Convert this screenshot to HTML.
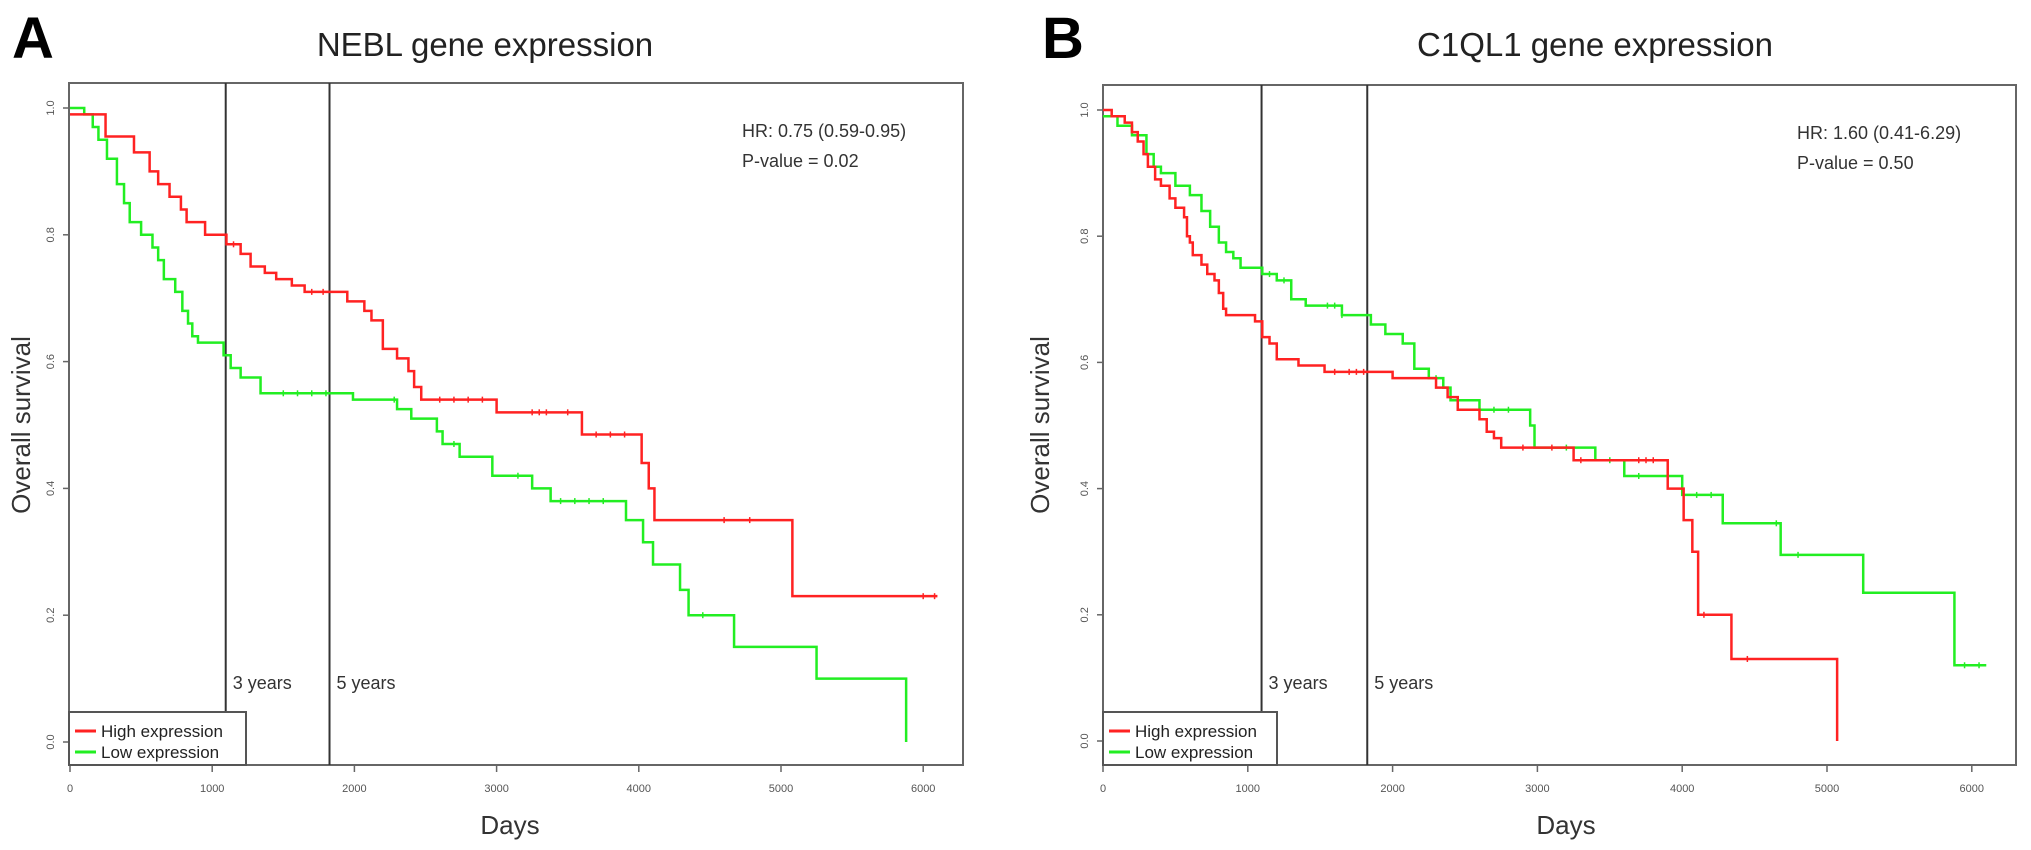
<!DOCTYPE html>
<html><head><meta charset="utf-8"><style>
html,body{margin:0;padding:0;background:#fff;}
svg{display:block;font-family:"Liberation Sans",Arial,sans-serif;}
</style></head><body>
<svg id="fig" width="2031" height="850" viewBox="0 0 2031 850" xmlns="http://www.w3.org/2000/svg"></svg>
<script>
// ---- data ----
const xTicks = [0,1000,2000,3000,4000,5000,6000];
const yTicks = [0,0.2,0.4,0.6,0.8,1.0];
const markerDays = [1095,1825];
const markerLabels = ["3 years","5 years"];

const aHighDays = [0,250,450,560,620,700,780,820,950,1100,1200,1270,1370,1450,1560,1650,1950,2070,2120,2200,2300,2380,2420,2470,3000,3600,4020,4070,4110,5080];
const aHighSurv = [0.99,0.955,0.93,0.90,0.88,0.86,0.84,0.82,0.80,0.785,0.77,0.75,0.74,0.73,0.72,0.71,0.695,0.68,0.665,0.62,0.605,0.585,0.56,0.54,0.52,0.485,0.44,0.40,0.35,0.23];
const aHighEnd = 6100;
const aHighCensor = [1150,1700,1780,2600,2700,2800,2900,3250,3300,3350,3500,3700,3800,3900,4600,4780,6000,6080];
const aLowDays = [0,100,160,200,260,330,380,420,500,580,620,660,740,790,830,860,900,1080,1130,1200,1340,1990,2300,2400,2580,2620,2740,2970,3250,3380,3910,4030,4100,4290,4350,4670,5250,5880];
const aLowSurv = [1.0,0.99,0.97,0.95,0.92,0.88,0.85,0.82,0.80,0.78,0.76,0.73,0.71,0.68,0.66,0.64,0.63,0.61,0.59,0.575,0.55,0.54,0.525,0.51,0.49,0.47,0.45,0.42,0.40,0.38,0.35,0.315,0.28,0.24,0.20,0.15,0.10,0.0];
const aLowEnd = 5880;
const aLowCensor = [1500,1600,1700,1800,2280,2700,3150,3450,3550,3650,3750,4450];

const bHighDays = [0,60,150,200,240,280,310,360,400,460,500,560,580,600,620,680,720,770,800,830,850,1050,1100,1150,1200,1350,1530,2000,2300,2380,2450,2600,2650,2700,2750,3250,3900,4010,4070,4110,4340,5070];
const bHighSurv = [1.0,0.99,0.98,0.965,0.95,0.93,0.91,0.89,0.88,0.86,0.845,0.83,0.80,0.79,0.77,0.755,0.74,0.73,0.71,0.685,0.675,0.665,0.64,0.63,0.605,0.595,0.585,0.575,0.56,0.545,0.525,0.51,0.49,0.48,0.465,0.445,0.40,0.35,0.30,0.20,0.13,0.0];
const bHighEnd = 5070;
const bHighCensor = [1600,1700,1750,1800,2900,3100,3300,3700,3750,3800,4150,4450];
const bLowDays = [0,100,200,300,350,400,500,600,680,740,800,850,900,950,1100,1200,1300,1400,1650,1850,1950,2070,2150,2250,2350,2400,2600,2950,2980,3400,3600,4000,4280,4680,5250,5880];
const bLowSurv = [0.99,0.975,0.96,0.93,0.91,0.90,0.88,0.865,0.84,0.815,0.79,0.775,0.765,0.75,0.74,0.73,0.70,0.69,0.675,0.66,0.645,0.63,0.59,0.575,0.56,0.54,0.525,0.50,0.465,0.445,0.42,0.39,0.345,0.295,0.235,0.12];
const bLowEnd = 6100;
const bLowCensor = [1150,1250,1550,1600,1650,2300,2700,2800,3200,3500,3700,4100,4200,4650,4800,5950,6050];

const NS = "http://www.w3.org/2000/svg";
const svg = document.getElementById("fig");
function mk(tag, attrs, parent, text){
  const e = document.createElementNS(NS, tag);
  for (const k in attrs) e.setAttribute(k, attrs[k]);
  if (text !== undefined) e.textContent = text;
  (parent || svg).appendChild(e);
  return e;
}

function panel(cfg){
  const g = mk("g", {});
  
  
  const X = d => cfg.x0 + d * cfg.px;
  const Y = s => cfg.y0 - s * cfg.py;

  const lt = mk("text", {x:cfg.letterX, y:58, "font-size":58, "font-weight":"bold", fill:"#000"}, g, cfg.letter);
  
  
  const tt = mk("text", {x:cfg.titleX, y:56, "font-size":33, "text-anchor":"middle", fill:"#222"}, g, cfg.title);
  
  

  // box
  const box = mk("rect", {x:cfg.bl, y:cfg.bt, width:cfg.br-cfg.bl, height:cfg.bb-cfg.bt, fill:"none", stroke:"#666", "stroke-width":2}, g);
  
  

  // y ticks
  yTicks.forEach(v => {
    const y = Y(v);
    const tk = mk("line", {x1:cfg.bl-6, x2:cfg.bl, y1:y, y2:y, stroke:"#666", "stroke-width":1.5}, g);
    
    
    const lx = cfg.bl - 15;
    const lb = mk("text", {x:lx, y:y, "font-size":11, "text-anchor":"middle", fill:"#555", transform:`rotate(-90 ${lx} ${y})`}, g, v.toFixed(1));
    
    
  });
  // x ticks
  xTicks.forEach(v => {
    const x = X(v);
    const tk = mk("line", {x1:x, x2:x, y1:cfg.bb, y2:cfg.bb+7, stroke:"#666", "stroke-width":1.5}, g);
    
    
    const lb = mk("text", {x:x, y:cfg.bb+27, "font-size":11, "text-anchor":"middle", fill:"#555"}, g, String(v));
    
    
  });
  const xt = mk("text", {x:cfg.daysX, y:834, "font-size":26, "text-anchor":"middle", fill:"#333"}, g, "Days");
  
  
  const yx = cfg.yTitleX, yy = 425;
  const yt = mk("text", {x:yx, y:yy, "font-size":26, "text-anchor":"middle", fill:"#333", transform:`rotate(-90 ${yx} ${yy})`}, g, "Overall survival");
  
  

  // marker lines
  markerDays.forEach((d,i) => {
    const x = X(d);
    const ln = mk("line", {x1:x, x2:x, y1:cfg.bt, y2:cfg.bb, stroke:"#333", "stroke-width":2}, g);
    
    
    const lb = mk("text", {x:x+7, y:689, "font-size":18, fill:"#333"}, g, markerLabels[i]);
    
    
  });

  // HR text
  const h1 = mk("text", {x:cfg.hrX, y:cfg.hrY, "font-size":18, fill:"#333"}, g, cfg.hr);
  
  
  const h2 = mk("text", {x:cfg.hrX, y:cfg.hrY+30, "font-size":18, fill:"#333"}, g, cfg.p);
  
  

  function curve(days, surv, end, censor, color, nm){
    let d = `M${X(days[0])},${Y(surv[0])}`;
    for (let i=1;i<days.length;i++){
      d += ` H${X(days[i])} V${Y(surv[i])}`;
    }
    d += ` H${X(end)}`;
    const p = mk("path", {d:d, fill:"none", stroke:color, "stroke-width":2.5}, g);
    
    
    censor.forEach(c => {
      let s = surv[0];
      for (let i=0;i<days.length;i++) if (days[i] <= c) s = surv[i];
      const cm = mk("line", {x1:X(c), x2:X(c), y1:Y(s)-3, y2:Y(s)+3, stroke:color, "stroke-width":1.5}, g);
      
      
    });
  }
  curve(cfg.lowD, cfg.lowS, cfg.lowE, cfg.lowC, "#22ee22", "low-expression-curve");
  curve(cfg.highD, cfg.highS, cfg.highE, cfg.highC, "#ff2222", "high-expression-curve");

  // legend
  const lg = mk("g", {}, g);
  
  
  mk("rect", {x:cfg.bl, y:712, width:cfg.legW, height:cfg.bb-712, fill:"#fff", stroke:"#555", "stroke-width":2}, lg);
  const e1 = mk("line", {x1:cfg.bl+6, x2:cfg.bl+27, y1:731, y2:731, stroke:"#ff2222", "stroke-width":3}, lg);
  
  
  const t1 = mk("text", {x:cfg.bl+32, y:737, "font-size":17, fill:"#222"}, lg, "High expression");
  
  
  const e2 = mk("line", {x1:cfg.bl+6, x2:cfg.bl+27, y1:752, y2:752, stroke:"#22ee22", "stroke-width":3}, lg);
  
  
  const t2 = mk("text", {x:cfg.bl+32, y:758, "font-size":17, fill:"#222"}, lg, "Low expression");
  
  
}

panel({name:"panel-a-nebl", letter:"A", letterX:12, title:"NEBL gene expression", titleX:485,
  bl:69, br:963, bt:83, bb:765, x0:70, px:0.1422, y0:742, py:634,
  daysX:510, yTitleX:30, hrX:742, hrY:137, hr:"HR: 0.75 (0.59-0.95)", p:"P-value = 0.02", legW:177,
  highD:aHighDays, highS:aHighSurv, highE:aHighEnd, highC:aHighCensor,
  lowD:aLowDays, lowS:aLowSurv, lowE:aLowEnd, lowC:aLowCensor});
panel({name:"panel-b-c1ql1", letter:"B", letterX:1042, title:"C1QL1 gene expression", titleX:1595,
  bl:1103, br:2016, bt:85, bb:765, x0:1103, px:0.1448, y0:741, py:631,
  daysX:1566, yTitleX:1049, hrX:1797, hrY:139, hr:"HR: 1.60 (0.41-6.29)", p:"P-value = 0.50", legW:174,
  highD:bHighDays, highS:bHighSurv, highE:bHighEnd, highC:bHighCensor,
  lowD:bLowDays, lowS:bLowSurv, lowE:bLowEnd, lowC:bLowCensor});
</script>
</body></html>
